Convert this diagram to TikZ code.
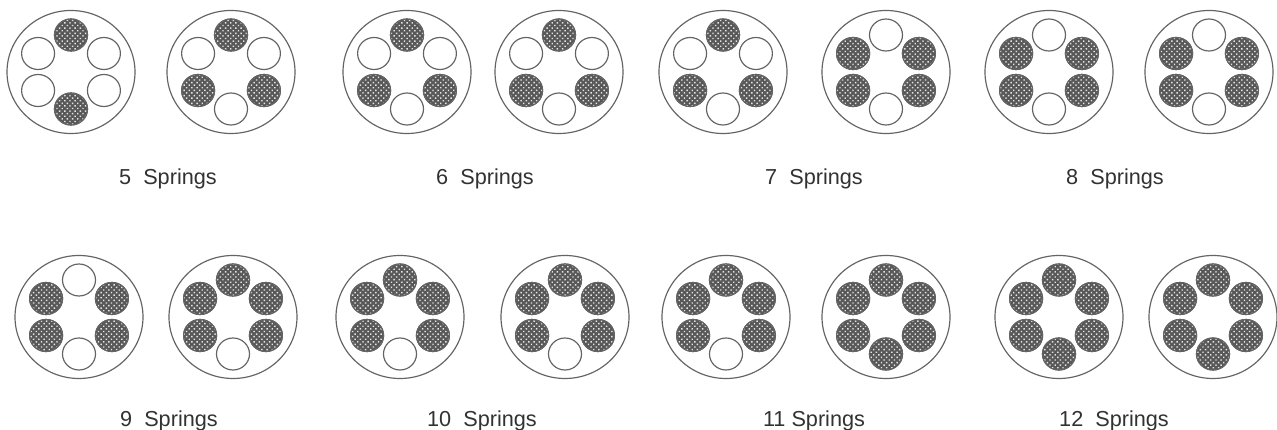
\documentclass[tikz,border=0pt]{standalone}
\usepackage{fontspec}
\setmainfont{Liberation Sans}
\usetikzlibrary{patterns.meta}
\definecolor{drumgray}{RGB}{100,100,100}
\definecolor{cellgray}{RGB}{88,88,88}
\definecolor{labelgray}{RGB}{50,50,50}

\begin{document}
\begin{tikzpicture}[x=0.6pt,y=0.6pt,
    drum/.style={draw=drumgray,line width=0.7pt},
    openspring/.style={draw=drumgray,line width=0.7pt,fill=white},
    fullspring/.style={draw=drumgray,line width=0.7pt,preaction={fill=cellgray},pattern={Dots[radius=0.6pt,distance=2.2pt,angle=45]},pattern color=white!90!black},
    countlabel/.style={font=\fontsize{13}{15}\selectfont,text=labelgray,inner sep=0pt}]
        \useasboundingbox (0,0) rectangle (1277,430);
        \fill[white] (0,0) rectangle (1277,430);
        % x / y / angles of the filled holes
        \foreach \x/\y/\on in {
            71/358/{90,-90},231/358/{90,-30,-150},
            407/358/{90,-30,-150},559/358/{90,-30,-150},
            723/358/{90,-30,-150},886/358/{30,-30,150,-150},
            1049/358/{30,-30,150,-150},1209/358/{30,-30,150,-150},
            79/113/{30,-30,150,-150},233/113/{90,30,-30,150,-150},
            400/113/{90,30,-30,150,-150},565/113/{90,30,-30,150,-150},
            726/113/{90,30,-30,150,-150},886/113/{90,30,-30,-90,150,-150},
            1059/113/{90,30,-30,-90,150,-150},1213/113/{90,30,-30,-90,150,-150}} {
          \draw[drum] (\x,\y) ellipse (64 and 61.5);
          \foreach \a in {90,30,-30,-90,-150,150}
            \draw[openspring] ([shift={(\a:38 and 37)}]\x,\y) ellipse (16.5 and 16);
          \foreach \a in \on
            \draw[fullspring] ([shift={(\a:38 and 37)}]\x,\y) ellipse (16.5 and 16);
        }
        \node[countlabel] (five) at (168,251) {5\ \ Springs};
        \node[countlabel] (six) at (485,251) {6\ \ Springs};
        \node[countlabel] (seven) at (814,251) {7\ \ Springs};
        \node[countlabel] (eight) at (1115,251) {8\ \ Springs};
        \node[countlabel] (nine) at (169,9) {9\ \ Springs};
        \node[countlabel] (ten) at (482,9) {10\ \ Springs};
        \node[countlabel] (eleven) at (814,9) {11 Springs};
        \node[countlabel] (twelve) at (1114,9) {12\ \ Springs};
      \end{tikzpicture}
\end{document}
